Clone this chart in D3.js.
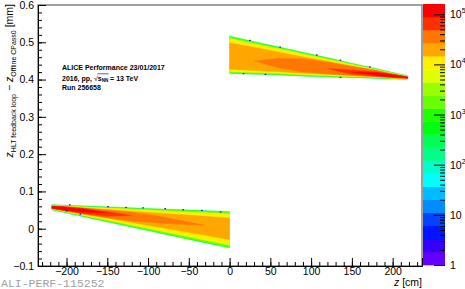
<!DOCTYPE html>
<html>
<head>
<meta charset="utf-8">
<script src="https://cdn.jsdelivr.net/npm/d3@7"></script>
<style>
  html, body { margin: 0; padding: 0; background: #fff; }
  svg { display: block; font-family: "Liberation Sans", Arial, sans-serif; }
</style>
</head>
<body>
<div id="chart"></div>
<script>
/* Data */
var xTicks = [-200, -150, -100, -50, 0, 50, 100, 150, 200],
    yTicks = [-0.1, 0, 0.1, 0.2, 0.3, 0.4, 0.5, 0.6],
    zTicks = [1, 10, 100, 1000, 10000, 100000],
    zMax = 1.6e5;

/* counts of the nested regions, low to high */
var layerCounts = [250, 1500, 5000, 11000, 22000, 42000, 75000, 130000];

/* left wedge (z < 0): columns and upper / lower edge of every region */
var leftZ = [-218, -205, -180, -150, -120, -90, -60, -30, 0];
var leftTop = [
  [0.065, 0.0639, 0.0617, 0.0591, 0.0565, 0.0538, 0.0512, 0.0486, 0.046],
  [0.063, 0.0619, 0.0597, 0.0571, 0.0545, 0.0518, 0.0492, 0.0466, 0.044],
  [0.0626, 0.0613, 0.0587, 0.0556, 0.0526, 0.0494, 0.0464, 0.0433, 0.0402],
  [0.0621, 0.0606, 0.0577, 0.0541, 0.0506, 0.047, 0.0435, 0.040, 0.0365],
  [0.0612, 0.0594, 0.0556, 0.0512, 0.0468, 0.0422, 0.0378, 0.0334, 0.029],
  [0.0614, 0.060, 0.0559, 0.0505, 0.0439, 0.0351, 0.0222, 0.0094, null],
  [0.0608, 0.0595, 0.0546, 0.046, 0.0352, null, null, null, null],
  [0.0603, 0.0587, 0.0533, 0.0423, null, null, null, null, null]
];
var leftBottom = [
  [0.050, 0.044, 0.0322, 0.0182, 0.0042, -0.0099, -0.0239, -0.038, -0.052],
  [0.052, 0.046, 0.0342, 0.0202, 0.0062, -0.0079, -0.0219, -0.036, -0.050],
  [0.0527, 0.047, 0.0357, 0.0224, 0.0091, -0.0043, -0.0176, -0.031, -0.0444],
  [0.0533, 0.0479, 0.0373, 0.0246, 0.012, -0.0007, -0.0134, -0.0261, -0.0387],
  [0.0544, 0.0495, 0.0398, 0.0283, 0.0168, 0.0052, -0.0063, -0.0178, -0.0293],
  [0.0542, 0.0489, 0.0393, 0.0294, 0.0207, 0.016, 0.0122, 0.0094, null],
  [0.0544, 0.0492, 0.0406, 0.0331, 0.0352, null, null, null, null],
  [0.0548, 0.050, 0.0444, 0.0423, null, null, null, null, null]
];

/* right wedge (z > 0) */
var rightZ = [0, 30, 60, 90, 120, 150, 180, 205, 218];
var rightTop = [
  [0.517, 0.502, 0.488, 0.473, 0.459, 0.444, 0.430, 0.417, 0.411],
  [0.515, 0.500, 0.486, 0.471, 0.457, 0.442, 0.428, 0.415, 0.409],
  [0.511, 0.497, 0.483, 0.469, 0.455, 0.441, 0.427, 0.415, 0.409],
  [0.507, 0.493, 0.480, 0.466, 0.453, 0.439, 0.426, 0.414, 0.408],
  [0.499, 0.487, 0.474, 0.461, 0.449, 0.436, 0.424, 0.413, 0.408],
  [null, 0.450, 0.457, 0.456, 0.447, 0.436, 0.425, 0.413, 0.408],
  [null, null, null, null, 0.430, 0.426, 0.421, 0.413, 0.407],
  [null, null, null, null, null, 0.420, 0.4188, 0.4114, 0.4069]
];
var rightBottom = [
  [0.416, 0.414, 0.412, 0.409, 0.407, 0.405, 0.403, 0.401, 0.400],
  [0.418, 0.416, 0.414, 0.411, 0.409, 0.407, 0.405, 0.403, 0.402],
  [0.421, 0.419, 0.416, 0.413, 0.410, 0.408, 0.406, 0.403, 0.402],
  [0.424, 0.421, 0.418, 0.415, 0.412, 0.409, 0.406, 0.404, 0.402],
  [0.428, 0.424, 0.421, 0.417, 0.414, 0.411, 0.407, 0.404, 0.403],
  [null, 0.450, 0.432, 0.420, 0.415, 0.411, 0.408, 0.404, 0.403],
  [null, null, null, null, 0.430, 0.414, 0.4085, 0.405, 0.404],
  [null, null, null, null, null, 0.420, 0.4108, 0.4054, 0.4041]
];

/* single low-count bins sticking out of the edges */
var strayZ = [17, 44, 25, 62, 107, 136, 172, 136, 218, -196, -149, -127, -106, -79, -57, -34, -11, -200, -183];
var strayY = [0.416, 0.414, 0.505, 0.487, 0.466, 0.452, 0.434, 0.406, 0.405,
              0.064, 0.059, 0.057, 0.056, 0.054, 0.051, 0.049, 0.045, 0.048, 0.039];
var strayCount = [3, 2, 4, 2, 3, 2, 5, 2, 3, 3, 2, 4, 2, 3, 2, 5, 3, 4, 6];

/* Settings */
var width = 465,
    height = 289,
    frameL = 38, frameR = 422, frameT = 5, frameB = 266,
    palX0 = 423, palX1 = 445,
    nLevels = 20;

var x = d3.scaleLinear().domain([-235, 236]).range([frameL, frameR]);
var y = d3.scaleLinear().domain([-0.1, 0.6]).range([frameB, frameT]);
var zScale = d3.scaleLog().domain([1, zMax]).range([265, 4]);

/* ROOT "pretty" palette, 20 contours picked from 50 colours */
function levelOf(c) {
  var i = Math.floor(Math.log10(c) / Math.log10(zMax) * nLevels);
  return Math.max(0, Math.min(nLevels - 1, i));
}
function levelColor(i) {
  var idx = Math.floor((i + 0.99) * 50 / nLevels);
  var hue = 280 - (idx + 1) * 5.6;
  return d3.hsl(hue, 1, 0.5).toString();
}

var svg = d3.select("#chart").append("svg")
    .attr("width", width)
    .attr("height", height)
    .attr("viewBox", "0 0 " + width + " " + height);

/* Histogram regions */
function drawWedge(zs, tops, bots) {
  layerCounts.forEach(function(c, k) {
    var pts = zs.map(function(z, j) { return {z: z, t: tops[k][j], b: bots[k][j]}; });
    var area = d3.area()
        .defined(function(d) { return d.t !== null; })
        .x(function(d) { return x(d.z); })
        .y0(function(d) { return y(d.b); })
        .y1(function(d) { return y(d.t); });
    svg.append("path")
      .datum(pts)
      .attr("fill", levelColor(levelOf(c)))
      .attr("stroke", levelColor(levelOf(c)))
      .attr("stroke-width", 0.3)
      .attr("d", area);
  });
}
drawWedge(leftZ, leftTop, leftBottom);
drawWedge(rightZ, rightTop, rightBottom);

svg.append("g").selectAll("rect")
  .data(strayZ)
  .join("rect")
    .attr("x", function(d) { return x(d) - 0.8; })
    .attr("y", function(d, i) { return y(strayY[i]) - 0.6; })
    .attr("width", 1.6)
    .attr("height", 1.2)
    .attr("fill", function(d, i) { return levelColor(levelOf(strayCount[i])); });

/* Frame */
svg.append("rect")
  .attr("x", frameL).attr("y", frameT)
  .attr("width", frameR - frameL).attr("height", frameB - frameT)
  .attr("fill", "none")
  .attr("stroke", "#777")
  .attr("stroke-width", 1.4);

/* X axis */
var xMinor = d3.range(-230, 231, 10);
svg.append("g")
  .attr("transform", "translate(0," + frameB + ")")
  .call(d3.axisBottom(x).tickValues(xMinor).tickSize(-4).tickFormat(""))
  .call(function(g) { g.select(".domain").remove(); });
svg.append("g")
  .attr("transform", "translate(0," + frameB + ")")
  .call(d3.axisBottom(x).tickValues(xTicks).tickSize(-8).tickPadding(2))
  .call(function(g) {
    g.select(".domain").attr("stroke", "#000");
    g.selectAll("text").attr("font-size", 10.5).attr("fill", "#000")
      .attr("font-family", "Liberation Sans, Arial, sans-serif");
  });

/* Y axis */
var yMinor = d3.range(-0.1, 0.601, 0.02);
svg.append("g")
  .attr("transform", "translate(" + frameL + ",0)")
  .call(d3.axisLeft(y).tickValues(yMinor).tickSize(-4).tickFormat(""))
  .call(function(g) { g.select(".domain").remove(); });
svg.append("g")
  .attr("transform", "translate(" + frameL + ",0)")
  .call(d3.axisLeft(y).tickValues(yTicks).tickSize(-8).tickPadding(4)
        .tickFormat(function(d) { return d3.format("")(+d.toFixed(1)); }))
  .call(function(g) {
    g.select(".domain").attr("stroke", "#000");
    g.selectAll("text").attr("font-size", 10.5).attr("fill", "#000")
      .attr("font-family", "Liberation Sans, Arial, sans-serif");
  });

/* Axis titles */
var xt = svg.append("text")
  .attr("x", frameR).attr("y", 286)
  .attr("text-anchor", "end")
  .attr("font-size", 10.5);
xt.append("tspan").attr("font-style", "italic").text("z");
xt.append("tspan").text(" [cm]");

var yt = svg.append("text")
  .attr("transform", "translate(13," + (frameT - 1) + ") rotate(-90)")
  .attr("text-anchor", "end")
  .attr("font-size", 10.5);
yt.append("tspan").attr("font-style", "italic").text("z");
yt.append("tspan").attr("font-size", 7).attr("dy", 2.5).text("HLT feedback loop");
yt.append("tspan").attr("dy", -2.5).text(" \u2212 ");
yt.append("tspan").attr("font-style", "italic").text("z");
yt.append("tspan").attr("font-size", 7).attr("dy", 2.5).text("Offline CPass0");
yt.append("tspan").attr("dy", -2.5).text(" [mm]");

/* Palette */
var zEdges = d3.range(nLevels + 1).map(function(i) {
  return Math.pow(10, i * Math.log10(zMax) / nLevels);
});
svg.append("g").selectAll("rect")
  .data(d3.range(nLevels))
  .join("rect")
    .attr("x", palX0)
    .attr("width", palX1 - palX0)
    .attr("y", function(i) { return zScale(zEdges[i + 1]); })
    .attr("height", function(i) { return zScale(zEdges[i]) - zScale(zEdges[i + 1]) + 0.3; })
    .attr("fill", function(i) { return levelColor(i); });

var zMinor = [];
[1, 10, 100, 1000, 10000, 100000].forEach(function(d) {
  for (var m = 2; m <= 9; m++) if (d * m < zMax) zMinor.push(d * m);
});
svg.append("g")
  .attr("transform", "translate(" + palX1 + ",0)")
  .call(d3.axisRight(zScale).tickValues(zMinor).tickSize(-5).tickFormat(""))
  .call(function(g) { g.select(".domain").remove(); });
svg.append("g")
  .attr("transform", "translate(" + palX1 + ",0)")
  .call(d3.axisRight(zScale).tickValues(zTicks).tickSize(-11).tickFormat(""))
  .call(function(g) { g.select(".domain").remove(); });

var zl = svg.append("g").selectAll("text")
  .data(zTicks)
  .join("text")
    .attr("x", 450)
    .attr("y", function(d) { return zScale(d) + 4; })
    .attr("font-size", 10.5);
zl.each(function(d) {
  var t = d3.select(this), e = Math.round(Math.log10(d));
  if (e === 0) t.text("1");
  else if (e === 1) t.text("10");
  else {
    t.append("tspan").text("10");
    t.append("tspan").attr("font-size", 7).attr("dy", -5).text(e);
  }
});

/* Labels */
var info = svg.append("g")
  .attr("font-size", 7)
  .attr("font-weight", "bold");
info.append("text").attr("x", 62).attr("y", 70).text("ALICE Performance 23/01/2017");
var l2 = info.append("text").attr("x", 62).attr("y", 80.5);
l2.append("tspan").text("2016, pp, ");
l2.append("tspan").attr("font-weight", "normal").text("\u221A");
l2.append("tspan").text("s");
l2.append("tspan").attr("font-size", 4.5).attr("dy", 1.5).text("NN");
l2.append("tspan").attr("dy", -1.5).text(" = 13 TeV");
/* bar of the square root over s_NN */
var node = l2.node(),
    full = node.textContent,
    i0 = full.indexOf("s", 9),
    i1 = full.indexOf("N") + 1;
var x0 = node.getStartPositionOfChar(i0).x,
    x1 = node.getEndPositionOfChar(i1).x;
info.append("line")
  .attr("x1", x0 - 0.5).attr("x2", x1 + 0.5)
  .attr("y1", 73.8).attr("y2", 73.8)
  .attr("stroke", "#000").attr("stroke-width", 0.6);
info.append("text").attr("x", 62).attr("y", 89.5).text("Run 256658");

svg.append("text")
  .attr("x", 1).attr("y", 286.5)
  .attr("font-family", "Liberation Mono, DejaVu Sans Mono, monospace")
  .attr("font-size", 11.5)
  .attr("fill", "#a0a0a0")
  .text("ALI-PERF-115252");
</script>
</body>
</html>
